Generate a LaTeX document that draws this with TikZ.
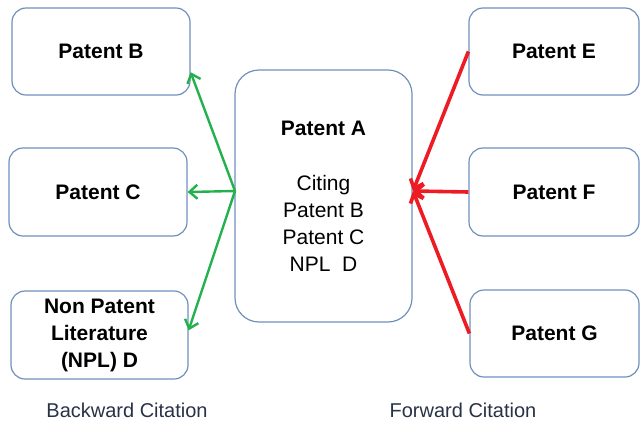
\documentclass[tikz,border=0pt]{standalone}
\usepackage{fontspec}
\setmainfont{Liberation Sans}
\usetikzlibrary{arrows.meta}
\definecolor{boxline}{RGB}{112,144,188}
\definecolor{citegreen}{RGB}{34,177,76}
\definecolor{citered}{RGB}{237,28,36}
\definecolor{labeltext}{RGB}{40,50,70}
\tikzset{
    >={Straight Barb[length=4pt, width=7pt]},
    box/.style={draw=boxline, line width=0.6pt, rounded corners=7pt, align=center,
        inner sep=0pt, font=\fontsize{10.5}{13.5}\selectfont\bfseries},
    backward/.style={->, draw=citegreen, line width=1.2pt},
    forward/.style={->, draw=citered, line width=1.8pt},
    caption/.style={text=labeltext, font=\fontsize{10}{12}\selectfont},
}

\begin{document}
\begin{tikzpicture}[x=0.5pt, y=-0.5pt]
        \useasboundingbox (0,0) rectangle (640,424);

        % cited documents
        \node[box, minimum width=89pt, minimum height=43.5pt] (pB) at (101,51.5) {Patent B};
        \node[box, minimum width=89pt, minimum height=44pt] (pC) at (98,192) {Patent C};
        \node[box, minimum width=88.5pt, minimum height=44pt] (npl) at (99.5,335)
            {Non Patent\\Literature\\(NPL) D};

        % the citing patent
        \node[box, rounded corners=12pt, minimum width=88.5pt, minimum height=126pt] (pA) at (323.5,196)
            {Patent A\\[14pt]\mdseries Citing\\\mdseries Patent B\\\mdseries Patent C\\\mdseries NPL\ \ D};

        % citing documents
        \node[box, minimum width=85pt, minimum height=43.5pt] (pE) at (554,51.5) {Patent E};
        \node[box, minimum width=85pt, minimum height=44pt] (pF) at (554,192) {Patent F};
        \node[box, minimum width=84.5pt, minimum height=43.5pt] (pG) at (554.5,333.5) {Patent G};

        \coordinate (split) at (235,191);
        \coordinate (merge) at (413,191);

        \draw[backward] (split) -- (pB.-13);
        \draw[backward] (split) -- (pC.east);
        \draw[backward] (split) -- (npl.3);

        \draw[forward] (pE.west) -- (merge);
        \draw[forward] (pF.west) -- (merge);
        \draw[forward] (pG.west) -- (merge);

        \node[caption] (back) at (127,410) {Backward Citation};
        \node[caption] (fwd) at (463,410) {Forward Citation};
    \end{tikzpicture}
\end{document}
